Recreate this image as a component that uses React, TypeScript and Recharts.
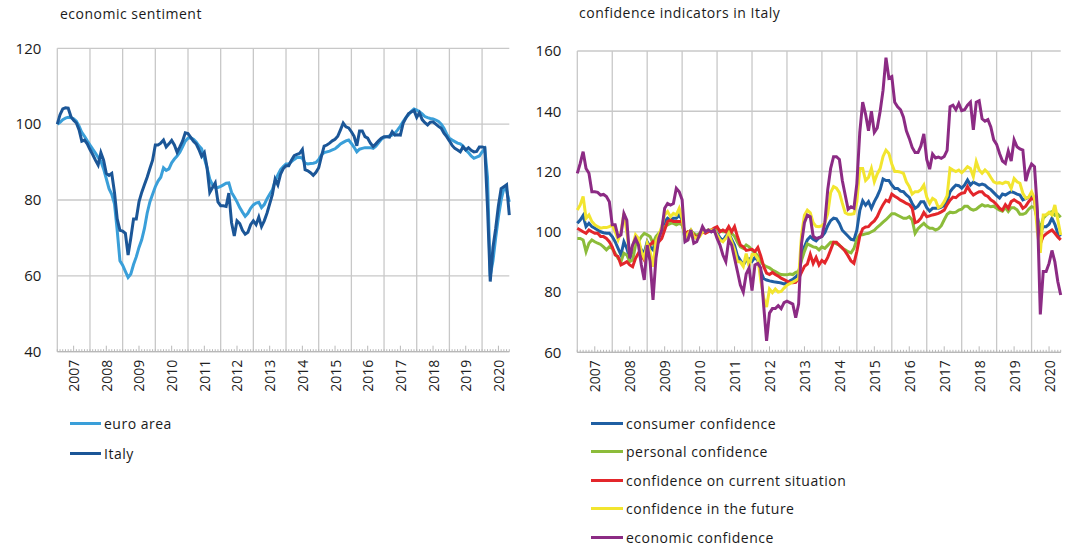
import { LineChart, Line, XAxis, YAxis, CartesianGrid } from "recharts";

// monthly, Jan 2007 .. Nov 2020
const YEARS = ["2007", "2008", "2009", "2010", "2011", "2012", "2013", "2014", "2015", "2016", "2017", "2018", "2019", "2020"];

// economic sentiment (Jan 2007 = 100)
const EURO_AREA = [
  100, 100.5, 101.2, 101.6, 101.8, 101.7, 101.4, 100.8, 99.5, 97.8, 96.8, 95.6,
  94.5, 93.4, 92.4, 91.2, 90.2, 88.2, 85.6, 83, 81.5, 79, 72, 64,
  62.8, 61.2, 59.6, 60.5, 63, 65, 67.5, 69.5, 72.5, 76.5, 79.5, 81.5,
  83.5, 85, 86, 88.5, 87.8, 88.2, 89.8, 90.8, 91.6, 92.6, 94, 95.5,
  96.3, 96.4, 96, 95.3, 94.3, 93.5, 91, 88.5, 85.5, 84, 83.3, 83.3,
  83.6, 84, 84.4, 84.5, 82, 80.8, 79.5, 78, 76.8, 75.7, 76.5, 77.8,
  78.7, 79.2, 79.4, 78, 78.8, 80.3, 81.5, 82.7, 85, 86.6, 88, 88.8,
  89.5, 89.5, 90.1, 90.7, 91.2, 91.3, 91, 89.7, 89.5, 89.6, 89.7, 89.9,
  90.7, 91.9, 92.5, 92.7, 92.9, 93.2, 93.5, 94.1, 94.8, 95.2, 95.6, 95.8,
  94.9, 93.9, 92.7, 93.4, 93.6, 93.8, 93.8, 93.8, 93.6, 94.2, 95.1, 96,
  96.5, 96.7, 96.9, 97.1, 97.6, 98.5, 99.5, 100.7, 101.7, 102.5, 103.4, 104,
  103.7, 103.3, 102.7, 102, 101.7, 101.5, 101.4, 101.1, 100.7, 100, 98.9, 97.4,
  96.3, 95.8, 95.4, 95, 94.8, 94.2, 93.2, 92.5, 91.6, 91, 91.3, 91.6,
  92.7, 93.5, 86, 60, 64, 70, 75.5, 80, 83, 82.5, 79.5,
];
const ITALY = [
  100, 102.5, 104, 104.3, 104.2, 102, 101, 100.3, 98.5, 95.5, 95.8, 94.8,
  93.3, 92, 90.5, 89.2, 92.5, 90.5, 87, 86.5, 87, 82, 75, 72,
  71.8, 71.2, 65.5, 70, 75, 75, 79.5, 82, 84, 86, 88.3, 90.5,
  94.5, 94.5, 95, 95.8, 94, 94.8, 95.7, 94.5, 92.6, 94, 95.5, 97.7,
  97.5, 96.5, 95.5, 94.8, 93.3, 91.5, 92.5, 88.5, 82, 83.3, 84.5, 79.5,
  78.5, 78.5, 78.3, 81.8, 74, 70.5, 74.5, 73.8, 72, 71, 71.5, 73.5,
  74.5, 73.5, 75.5, 73, 74.5, 76.5, 79, 81.5, 85.5, 84, 86.8, 88.3,
  89, 89, 90.5, 91.7, 92, 92.3, 93.3, 88, 87.7, 87.2, 86.5, 87.3,
  88.5, 91.5, 94.2, 94.5, 95, 95.6, 96, 96.8, 98.5, 100.3, 99.3, 99,
  98, 96.8, 94.3, 98.2, 98.2, 96.7, 96.3, 95, 94.1, 94.8, 95.6, 96.3,
  96.7, 96.7, 96.6, 98, 97.1, 97.2, 97.1, 100.2, 101.6, 102.8, 103.2, 103.6,
  101.8, 103, 101.2, 100.4, 99.8, 100.5, 100.6, 100, 99.4, 98.9, 97.6, 96.7,
  95.6, 94.4, 93.6, 93.2, 92.7, 94, 93.2, 93.8, 93.1, 92.7, 92.8, 94,
  94, 93.8, 78, 58.5, 67.5, 72.5, 78.5, 83, 83.5, 84, 76,
];

// confidence indicators in Italy
const CONSUMER = [
  102.8, 103.9, 105.4, 101.7, 102.8, 101.7, 101.2, 100.6, 100, 99.7, 99.5, 99.5,
  98.4, 96.7, 94.5, 92.3, 96.7, 94.5, 91.2, 94, 96.7, 96.2, 94, 92.9,
  96.7, 95, 94, 97.3, 99, 100, 103.4, 104.5, 103.9, 104.5, 104.5, 105.6,
  103.9, 97.3, 99, 100.5, 99, 98.5, 99, 100.5, 100, 100.6, 100, 100.5,
  99.5, 98, 97, 98.5, 99.5, 97.5, 95.5, 92, 90.5, 89, 90.5, 91,
  90.2, 91.5, 90.5, 87, 84.5, 84, 83.7, 83.5, 83.3, 83.2, 83, 82.7,
  83, 83.7, 84.2, 85, 86, 92, 95, 97.3, 98.4, 97.5, 97, 98,
  98.4, 99.7, 102, 103.7, 104.5, 104.3, 102.8, 100.5, 99.5, 98.5, 97.5, 97.3,
  100.5, 107, 110.3, 108.8, 110, 107.8, 110, 111.8, 114, 117.5, 117, 117,
  115.5, 114.4, 114.4, 113.5, 113.3, 112.2, 111.4, 109.4, 107.8, 108.5, 110, 110,
  108, 106.9, 107.8, 107.8, 107.8, 108.2, 108.7, 110, 113.3, 114.5, 115.5, 115.3,
  114.5, 115.5, 117.2, 115.5, 116.5, 116, 115.5, 115.8, 115.5, 114.6, 114, 113,
  112, 111.2, 112.5, 112.2, 112.8, 113.3, 113, 112.5, 112.2, 110.6, 111, 111.5,
  111.7, 111, 105, 99.5, 101.7, 101.7, 102.5, 104.5, 102.5, 99.5, 98.5,
];
const PERSONAL = [
  97.8, 97.8, 97.3, 93.4, 96.2, 97.3, 96.7, 96.2, 95.8, 95, 94, 95,
  94.5, 92.9, 91.2, 90.1, 92.9, 92.3, 90.1, 90.6, 95.6, 96.7, 98.4, 99.5,
  99, 98.4, 96.2, 98.4, 99.5, 100, 101.7, 102.3, 102.8, 102.8, 102.3, 102.8,
  102.3, 99, 100, 100.3, 99.5, 98.8, 99.5, 100, 100, 100.3, 100.6, 100.5,
  101, 100.5, 100, 100, 101, 99.5, 98.5, 96.5, 95, 94.5, 95.6, 95,
  94, 93, 92, 90, 89, 88.4, 88, 87.3, 86.8, 86.2, 85.8, 85.7,
  85.7, 86, 85.8, 86.5, 86.8, 90.5, 93.5, 96, 95.5, 95, 94.8, 94,
  95, 94.5, 95.5, 96.5, 96.5, 96, 95.6, 94.5, 94, 93.4, 93, 94.5,
  97.5, 99, 99, 99.3, 99.5, 100, 100.5, 101.5, 102.3, 103.2, 104, 105,
  106, 106, 105.5, 105, 104.5, 104.5, 105, 103.9, 99.5, 101, 102, 102.8,
  101.8, 101.2, 101.2, 100.6, 101, 102, 104, 105.8, 106.5, 106.3, 106.5, 107.2,
  107.5, 108.5, 108.5, 107.6, 107.2, 107.5, 108.3, 109, 108.5, 108.7, 108.3, 108.5,
  107.8, 107.2, 106.8, 108, 106.7, 108, 108, 107.3, 105.8, 105.8, 106.2, 107.5,
  108.3, 108, 104, 101, 104.5, 105.5, 106.2, 106.7, 105.5, 105.8, 104.8,
];
const CURRENT = [
  101.2, 100.6, 100, 99.5, 100.6, 100, 99.5, 99.5, 98.4, 98.4, 97.8, 96.7,
  95, 92.3, 91.8, 89, 89.5, 90.1, 89, 88.4, 91.2, 92.9, 92.3, 90.6,
  94.5, 95.6, 96.7, 95.6, 96.7, 97.8, 100.6, 103.4, 103.9, 103.4, 103.4, 103.4,
  103.4, 99.5, 100, 99.5, 99, 97.8, 99, 100, 99.5, 100, 100.6, 101.2,
  101.7, 100, 100.6, 100, 101.7, 100, 101.7, 98.4, 95.6, 95, 93.8, 94,
  94.2, 93.4, 94.8, 92, 88.5, 86.3, 85.8, 86.5, 85.8, 85.3, 84.6, 84.1,
  83.6, 83.2, 83.1, 83.2, 84.5, 86.5, 88.5, 89.3, 92.5, 89.5, 91.5, 89,
  90.5, 89.7, 91.5, 94, 96.5, 96.5, 95.5, 94.7, 93.5, 92, 90.3, 89.5,
  93.5, 98.5, 101, 101.6, 101.7, 102.8, 103.6, 105, 107.2, 109, 110.5, 110,
  112.5, 111.8, 111.2, 110.5, 110, 109.4, 109, 107.8, 103, 103.4, 104.5, 106.4,
  105, 105.3, 105.6, 105.8, 106.1, 106.6, 107.2, 109, 110.5, 111.5, 111.3, 112.2,
  112.8, 113, 115, 113.3, 112.2, 112.8, 113.3, 113.3, 112.2, 111.7, 110.6, 110,
  109, 107.8, 107.2, 109, 107.8, 110, 110.6, 110, 109.4, 107.8, 108.5, 110,
  111.1, 110.8, 103, 96, 98.5, 99.3, 100, 100.6, 99.5, 98.3, 97.3,
];
const FUTURE = [
  107.2, 108.9, 111.7, 104.5, 105.6, 103.4, 102.3, 101.7, 101.2, 101.4, 101.4, 101.7,
  102.3, 100, 97.3, 100, 106.1, 100, 92.3, 95, 99, 97.8, 93.4, 91.2,
  96.2, 93.4, 88.4, 96.7, 99, 101.7, 105.6, 106.7, 105, 106.1, 105.6, 107.8,
  104.5, 97.8, 99.5, 100.6, 98.4, 97.8, 98.4, 100, 100, 100.6, 100.6, 100.6,
  99, 97.3, 96.7, 97.8, 99.5, 96.7, 94, 90.1, 90, 88.5, 92.8, 88.5,
  92.5, 92.5, 91, 84, 78, 75, 81, 79.8, 81, 80, 80.2, 81.3,
  82.3, 82.8, 83.3, 83.8, 84.5, 99, 105.5, 107.2, 106.3, 103, 101.8, 101.7,
  102, 103, 106, 113, 115, 114.5, 113, 109.5, 106.3, 105.8, 105.8, 106,
  110, 121, 121, 117, 118, 121, 116.6, 119.2, 121, 125, 127.1, 126,
  122.5, 120, 120, 119.8, 119.4, 116.6, 115, 112.5, 113.3, 113.3, 114, 115.5,
  111.5, 109.4, 111.1, 110.5, 108, 108.5, 110, 112, 121.1, 120.5, 120, 120.5,
  119.6, 120.5, 121.6, 121, 118.3, 123.3, 120.5, 119.4, 120.5, 119.6, 118, 116.6,
  116.1, 116.3, 116, 116.5, 116.3, 114.4, 117.7, 116.6, 116.1, 112.8, 111.1, 111.5,
  113.3, 111.1, 100, 93, 105.6, 105.6, 106.5, 105.6, 108.9, 104, 98.9,
];
const ECONOMIC = [
  119.4, 122.7, 126.6, 121, 119.4, 113.3, 113.3, 113.1, 112.2, 112.4, 111.7, 110,
  102.3, 102.3, 98.4, 99, 106.1, 103.9, 91.2, 95.6, 97.8, 95.6, 89, 84,
  95.6, 90.1, 77.4, 91.2, 97.8, 100.6, 107.8, 109.4, 108.9, 109.4, 114.4, 113.3,
  110.6, 96.7, 97.3, 100.6, 96.2, 96.7, 99, 101.7, 100, 100.6, 100, 100.6,
  97.8, 95.6, 92.3, 90.1, 97.3, 95.6, 91.2, 86.8, 82.3, 80, 86, 88,
  80.5, 89, 89.5, 88, 75.5, 63.8, 73, 74.5, 74.5, 75.5, 74.5, 76.5,
  77, 76.5, 76, 71.5, 76, 96, 103, 105.5, 105, 98.5, 97.8, 98,
  98.5, 103, 114, 121, 124.9, 124.9, 124, 117, 112.2, 107.5, 108.3, 107.8,
  116, 133, 143, 139, 133.5, 140, 133, 134.5, 140, 147, 157.8, 151,
  151.5, 143, 141.5, 140.5, 138, 133.5, 131, 128, 126.3, 126.3, 128.5, 132.5,
  124, 120.8, 125.8, 124.5, 124.8, 124.4, 125, 127, 141.5, 142, 140.5, 142.6,
  140.2, 140.5, 142, 143, 133.8, 143, 143.5, 137.5, 136.7, 137.2, 134.8, 130.5,
  129, 126, 123.5, 122.7, 126.8, 123.5, 130.5, 128.2, 127.5, 127.1, 116.8, 120.3,
  122.5, 121.6, 107, 72.6, 86.8, 86.8, 89.5, 93.8, 90, 83.5, 79,
];

const LEFT_TICKS = [40, 60, 80, 100, 120];
const RIGHT_TICKS = [60, 80, 100, 120, 140, 160];

const leftSeries = [
  { key: "ea", name: "euro area", color: "#3a9fd9", values: EURO_AREA },
  { key: "it", name: "Italy", color: "#1b5697", values: ITALY },
];
const rightSeries = [
  { key: "cc", name: "consumer confidence", color: "#1f5fa3", values: CONSUMER },
  { key: "pc", name: "personal confidence", color: "#8cbc3a", values: PERSONAL },
  { key: "cs", name: "confidence on current situation", color: "#e3262b", values: CURRENT },
  { key: "cf", name: "confidence in the future", color: "#f2e52f", values: FUTURE },
  { key: "ec", name: "economic confidence", color: "#8c2b84", values: ECONOMIC },
];

const FONT = "'Open Sans', Lato, sans-serif";
const N = EURO_AREA.length;
const monthTicks = EURO_AREA.map((_, i) => i);
const janTicks = YEARS.map((_, k) => k * 12);

const buildRows = (series: { key: string; values: number[] }[]) =>
  monthTicks.map((i) => {
    const row: Record<string, number> = { i };
    series.forEach((s) => (row[s.key] = s.values[i]));
    return row;
  });

const leftData = buildRows(leftSeries);
const rightData = buildRows(rightSeries);

const MonthTick = (props: any) => {
  const { x, y, payload } = props;
  const v = payload.value as number;
  const mid = v % 12 === 6;
  const ly = y + 8;
  return (
    <g>
      <line x1={x} x2={x} y1={y} y2={y - (mid ? 6 : 2.5)} stroke="#b8b8b8" strokeWidth={1} />
      {mid && (
        <text x={x} y={ly} transform={`rotate(-90 ${x} ${ly})`} textAnchor="end" dominantBaseline="central"
          fontSize={14} fill="#222" fontFamily={FONT}>
          {YEARS[Math.floor(v / 12)]}
        </text>
      )}
    </g>
  );
};

const Panel = ({ data, series, domain, ticks, width, top, right, plotH }: any) => (
  <LineChart width={width} height={400} data={data} margin={{ top, right, left: 0, bottom: 0 }}>
    <CartesianGrid stroke="#c8c8c8" strokeWidth={1.3} verticalValues={janTicks} />
    <XAxis dataKey="i" type="number" domain={[0, N - 1]} ticks={monthTicks} interval={0}
      height={400 - top - plotH} tickSize={0} tickMargin={0}
      tick={<MonthTick />} tickLine={false} axisLine={{ stroke: "#b8b8b8", strokeWidth: 1.3 }} />
    <YAxis domain={domain} ticks={ticks} width={57.3} axisLine={false} tickLine={false} tickMargin={10}
      tick={{ fontSize: 15, fill: "#1a1a1a", fontFamily: FONT }} />
    {series.map((s: any) => (
      <Line key={s.key} dataKey={s.key} type="linear" stroke={s.color} strokeWidth={3} dot={false}
        isAnimationActive={false} />
    ))}
  </LineChart>
);

const Legend = ({ series, left, lineW, gap }: any) => (
  <div style={{ position: "absolute", left, top: 413 }}>
    {series.map((s: any, k: number) => (
      <div key={s.key} style={{ position: "absolute", top: k * gap, left: 0, height: 20, display: "flex", alignItems: "center", whiteSpace: "nowrap" }}>
        <div style={{ width: lineW, height: 3, background: s.color, marginRight: 3 }} />
        <span style={{ fontSize: 14, letterSpacing: 0.5, color: "#1a1a1a", fontFamily: FONT }}>{s.name}</span>
      </div>
    ))}
  </div>
);

export default function App() {
  return (
    <div style={{ position: "absolute", left: 0, top: 0, width: 1069, height: 548, background: "#fff", fontFamily: FONT, overflow: "hidden" }}>
      <div style={{ position: "absolute", left: 60, top: 4, fontSize: 14, letterSpacing: 0.5, color: "#1a1a1a" }}>economic sentiment</div>
      <div style={{ position: "absolute", left: 579, top: 3, fontSize: 14, letterSpacing: 0.5, color: "#1a1a1a" }}>confidence indicators in Italy</div>
      <div style={{ position: "absolute", left: 0, top: 0 }}>
        <Panel data={leftData} series={leftSeries} domain={[40, 120]} ticks={LEFT_TICKS} width={530} top={48.3} right={20.7} plotH={303.4} />
      </div>
      <div style={{ position: "absolute", left: 520, top: 0 }}>
        <Panel data={rightData} series={rightSeries} domain={[60, 160]} ticks={RIGHT_TICKS} width={549} top={51} right={8.3} plotH={301.3} />
      </div>
      <Legend series={leftSeries} left={70} lineW={31} gap={30} />
      <Legend series={rightSeries} left={591} lineW={32} gap={28.6} />
    </div>
  );
}
